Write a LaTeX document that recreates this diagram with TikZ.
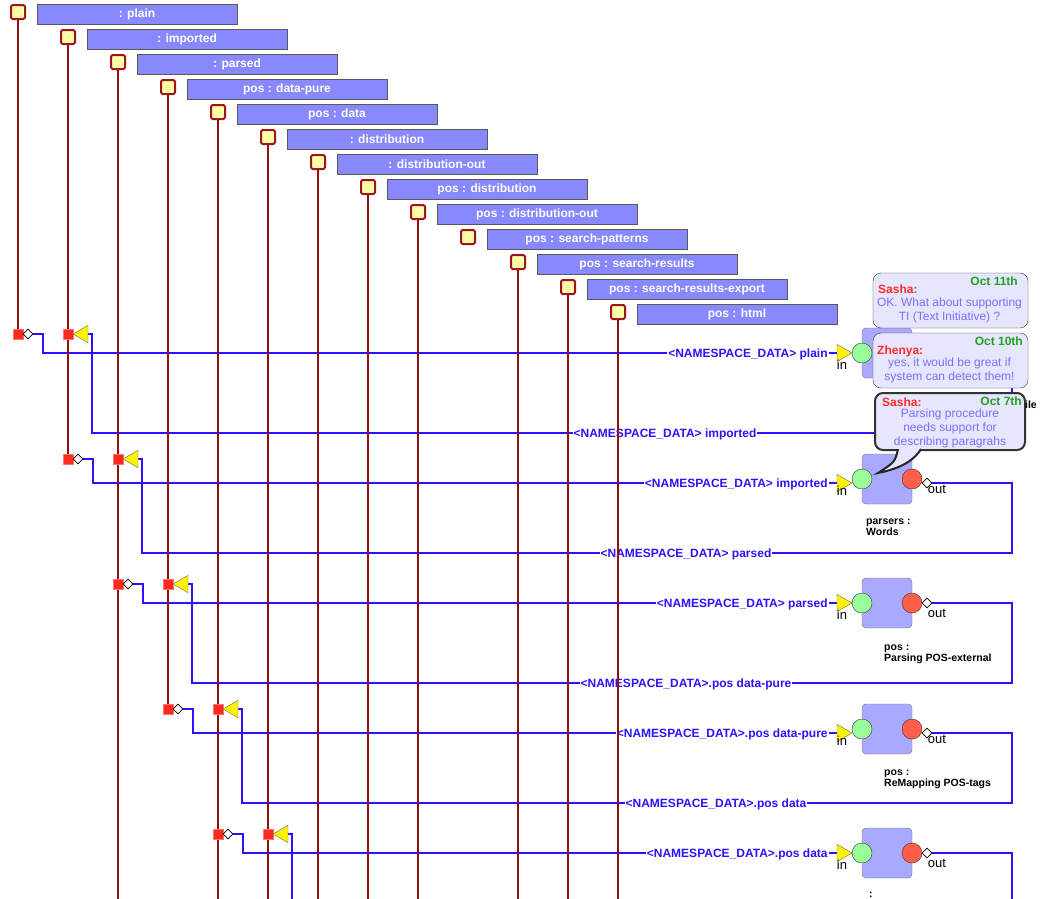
\documentclass[tikz,border=0pt]{standalone}
\usepackage{fontspec}
\setmainfont{Liberation Sans}
\usetikzlibrary{positioning}
\usetikzlibrary{shapes.geometric}
\pgfdeclarelayer{wires}
\pgfdeclarelayer{lives}
\pgfsetlayers{wires,lives,main}
\definecolor{mlife}{HTML}{8E1010}
\definecolor{mdark}{HTML}{A0141E}
\definecolor{myell}{HTML}{FFFFA8}
\definecolor{mhead}{HTML}{8888FF}
\definecolor{msq}{HTML}{FF2A1E}
\definecolor{mwire}{HTML}{2A14FF}
\definecolor{mbox}{HTML}{A9A9FF}
\definecolor{mgreen}{HTML}{99FF99}
\definecolor{mred}{HTML}{FF5F4A}
\definecolor{mnote}{HTML}{E6E6FF}
\definecolor{mnotetext}{HTML}{7C6FFF}
\definecolor{mname}{HTML}{FF2A2A}
\definecolor{mdate}{HTML}{22A022}
\tikzset{
  headsq/.style = {draw=mdark, line width=2pt, fill=myell, minimum size=14pt, inner sep=0, rounded corners=1.5pt},
  headbox/.style = {draw=black!65, fill=mhead, minimum width=200pt, minimum height=20pt, inner sep=0, text=white, font=\fontsize{12}{14}\selectfont\bfseries},
  lsq/.style = {draw=red!55!white, fill=msq, minimum size=10pt, inner sep=0},
  sendpt/.style = {diamond, draw=black, fill=white, minimum size=10pt, inner sep=0, line width=0.6pt},
  recvpt/.style = {regular polygon, regular polygon sides=3, shape border rotate=90, draw=black!60, fill=yellow, minimum size=20pt, inner sep=0},
  inpt/.style = {recvpt, shape border rotate=-90},
  comp/.style = {draw=black!55, fill=mbox, rounded corners=4pt, minimum size=50pt, inner sep=0},
  pin/.style = {circle, draw=black!80, fill=mgreen, minimum size=20pt, inner sep=0},
  pout/.style = {pin, fill=mred},
  portlbl/.style = {inner sep=0, font=\fontsize{13}{13}\selectfont},
  complbl/.style = {inner sep=0, anchor=north west, align=left, font=\fontsize{10.5}{10.5}\selectfont\bfseries},
  wire/.style = {mwire, line width=2pt},
  wlabel/.style = {text=mwire, fill=white, inner sep=1pt, text height=8.6pt, text depth=0pt, font=\fontsize{12}{14}\selectfont\bfseries},
  life/.style = {mlife, line width=2pt},
  note/.style = {draw=black!80, fill=mnote, rounded corners=8pt, minimum width=155pt, minimum height=55pt, inner sep=0},
  who/.style = {text=mname, inner sep=0, anchor=base west, font=\fontsize{12}{14}\selectfont\bfseries},
  when/.style = {text=mdate, inner sep=0, anchor=base east, font=\fontsize{12}{14}\selectfont\bfseries},
  said/.style = {text=mnotetext, inner sep=0, anchor=north, align=center, font=\fontsize{12}{14}\selectfont}
}

\begin{document}
\begin{tikzpicture}[x=1pt, y=-1pt]
  \useasboundingbox (0, 0) rectangle (1049, 898);
  \clip (0, 0) rectangle (1049, 898);

  % data objects
  \node [headsq] (h0) at (18, 12) {};    \node [headbox] (b0) at (137, 14) {: plain};
  \node [headsq] (h1) at (68, 37) {};    \node [headbox] (b1) at (187, 39) {: imported};
  \node [headsq] (h2) at (118, 62) {};   \node [headbox] (b2) at (237, 64) {: parsed};
  \node [headsq] (h3) at (168, 87) {};   \node [headbox] (b3) at (287, 89) {pos : data-pure};
  \node [headsq] (h4) at (218, 112) {};  \node [headbox] (b4) at (337, 114) {pos : data};
  \node [headsq] (h5) at (268, 137) {};  \node [headbox] (b5) at (387, 139) {: distribution};
  \node [headsq] (h6) at (318, 162) {};  \node [headbox] (b6) at (437, 164) {: distribution-out};
  \node [headsq] (h7) at (368, 187) {};  \node [headbox] (b7) at (487, 189) {pos : distribution};
  \node [headsq] (h8) at (418, 212) {};  \node [headbox] (b8) at (537, 214) {pos : distribution-out};
  \node [headsq] (h9) at (468, 237) {};  \node [headbox] (b9) at (587, 239) {pos : search-patterns};
  \node [headsq] (h10) at (518, 262) {}; \node [headbox] (b10) at (637, 264) {pos : search-results};
  \node [headsq] (h11) at (568, 287) {}; \node [headbox] (b11) at (687, 289) {pos : search-results-export};
  \node [headsq] (h12) at (618, 312) {}; \node [headbox] (b12) at (737, 314) {pos : html};

  % send and receive points
  \node [lsq] (a1) at (18, 334) {};  \node [sendpt] (d1) at (28, 334) {};
  \node [lsq] (r1) at (68, 334) {};  \node [recvpt] (t1) at (83, 334) {};
  \node [lsq] (a2) at (68, 459) {};  \node [sendpt] (d2) at (78, 459) {};
  \node [lsq] (r2) at (118, 459) {}; \node [recvpt] (t2) at (133, 459) {};
  \node [lsq] (a3) at (118, 584) {}; \node [sendpt] (d3) at (128, 584) {};
  \node [lsq] (r3) at (168, 584) {}; \node [recvpt] (t3) at (183, 584) {};
  \node [lsq] (a4) at (168, 709) {}; \node [sendpt] (d4) at (178, 709) {};
  \node [lsq] (r4) at (218, 709) {}; \node [recvpt] (t4) at (233, 709) {};
  \node [lsq] (a5) at (218, 834) {}; \node [sendpt] (d5) at (228, 834) {};
  \node [lsq] (r5) at (268, 834) {}; \node [recvpt] (t5) at (283, 834) {};

  % components
  \node [comp] (c1) at (887, 353) {};
  \node [pin] (ci1) at (862, 353) {}; \node [pout] (co1) at (912, 353) {};
  \node [inpt] (ti1) at (842, 353) {}; \node [sendpt] (do1) at (927, 353) {};
  \node [comp] (c2) at (887, 479) {};
  \node [pin] (ci2) at (862, 479) {}; \node [pout] (co2) at (912, 479) {};
  \node [inpt] (ti2) at (842, 483) {}; \node [sendpt] (do2) at (927, 483) {};
  \node [comp] (c3) at (887, 603) {};
  \node [pin] (ci3) at (862, 603) {}; \node [pout] (co3) at (912, 603) {};
  \node [inpt] (ti3) at (842, 603) {}; \node [sendpt] (do3) at (927, 603) {};
  \node [comp] (c4) at (887, 729) {};
  \node [pin] (ci4) at (862, 729) {}; \node [pout] (co4) at (912, 729) {};
  \node [inpt] (ti4) at (842, 733) {}; \node [sendpt] (do4) at (927, 733) {};
  \node [comp] (c5) at (887, 853) {};
  \node [pin] (ci5) at (862, 853) {}; \node [pout] (co5) at (912, 853) {};
  \node [inpt] (ti5) at (842, 853) {}; \node [sendpt] (do5) at (927, 853) {};

  \coordinate (k1) at (1012, 433);
  \coordinate (k2) at (1012, 553);
  \coordinate (k3) at (1012, 683);
  \coordinate (k4) at (1012, 803);
  \coordinate (k5) at (1012, 930);
  \coordinate (bot) at (0, 900);

  \begin{pgfonlayer}{wires}
    \draw [wire] (d1.east) -- ++(10, 0) |- (ti1.west);
    \draw [wire] (do1.east) -| (k1) -| ([xshift=4pt]t1.east) -- (t1.east);
    \draw [wire] (d2.east) -- ++(10, 0) |- (ti2.west);
    \draw [wire] (do2.east) -| (k2) -| ([xshift=4pt]t2.east) -- (t2.east);
    \draw [wire] (d3.east) -- ++(10, 0) |- (ti3.west);
    \draw [wire] (do3.east) -| (k3) -| ([xshift=4pt]t3.east) -- (t3.east);
    \draw [wire] (d4.east) -- ++(10, 0) |- (ti4.west);
    \draw [wire] (do4.east) -| (k4) -| ([xshift=4pt]t4.east) -- (t4.east);
    \draw [wire] (d5.east) -- ++(10, 0) |- (ti5.west);
    \draw [wire] (do5.east) -| (k5) -| ([xshift=4pt]t5.east) -- (t5.east);

    \node [wlabel, left=8pt of ti1] (w1) {<NAMESPACE\_DATA> plain};
    \node [wlabel] (v1) at (665, 433) {<NAMESPACE\_DATA> imported};
    \node [wlabel, left=8pt of ti2] (w2) {<NAMESPACE\_DATA> imported};
    \node [wlabel] (v2) at (686, 553) {<NAMESPACE\_DATA> parsed};
    \node [wlabel, left=8pt of ti3] (w3) {<NAMESPACE\_DATA> parsed};
    \node [wlabel] (v3) at (686, 683) {<NAMESPACE\_DATA>.pos data-pure};
    \node [wlabel, left=8pt of ti4] (w4) {<NAMESPACE\_DATA>.pos data-pure};
    \node [wlabel] (v4) at (716, 803) {<NAMESPACE\_DATA>.pos data};
    \node [wlabel, left=8pt of ti5] (w5) {<NAMESPACE\_DATA>.pos data};
  \end{pgfonlayer}

  \begin{pgfonlayer}{lives}
    \draw [life] (h0.south) -- (a1.center);
    \draw [life] (h1.south) -- (a2.center);
    \draw [life] (h2.south) -- (h2.south |- bot);
    \draw [life] (h3.south) -- (a4.center);
    \draw [life] (h4.south) -- (h4.south |- bot);
    \draw [life] (h5.south) -- (h5.south |- bot);
    \draw [life] (h6.south) -- (h6.south |- bot);
    \draw [life] (h7.south) -- (h7.south |- bot);
    \draw [life] (h8.south) -- (h8.south |- bot);
    \draw [life] (h10.south) -- (h10.south |- bot);
    \draw [life] (h11.south) -- (h11.south |- bot);
    \draw [life] (h12.south) -- (h12.south |- bot);
  \end{pgfonlayer}

  % port names and component names
  \node [portlbl] (in1) at ([xshift=-20pt, yshift=-12pt]ci1.center) {in};
  \node [portlbl] (in2) at ([xshift=-20pt, yshift=-12pt]ci2.center) {in};
  \node [portlbl] (ou2) at ([xshift=25pt, yshift=-10pt]co2.center) {out};
  \node [portlbl] (in3) at ([xshift=-20pt, yshift=-12pt]ci3.center) {in};
  \node [portlbl] (ou3) at ([xshift=25pt, yshift=-10pt]co3.center) {out};
  \node [portlbl] (in4) at ([xshift=-20pt, yshift=-12pt]ci4.center) {in};
  \node [portlbl] (ou4) at ([xshift=25pt, yshift=-10pt]co4.center) {out};
  \node [portlbl] (in5) at ([xshift=-20pt, yshift=-12pt]ci5.center) {in};
  \node [portlbl] (ou5) at ([xshift=25pt, yshift=-10pt]co5.center) {out};
  \node [complbl, anchor=base east] (n1) at (1037, 408) {ile};
  \node [complbl] (n2) at (866, 519) {parsers :\\Words};
  \node [complbl] (n3) at (884, 645) {pos :\\Parsing POS-external};
  \node [complbl] (n4) at (884, 770) {pos :\\ReMapping POS-tags};
  \node [complbl, anchor=base west] (n5) at (869, 897) {:};

  % comments
  \node [note] (m1) at (950.5, 300.5) {};
  \node [when] (m1d) at (1018, 285) {Oct 11th};
  \node [who] (m1n) at (878, 293) {Sasha:};
  \node [said] (m1t) at (949.5, 297.2) {OK. What about supporting\\TI (Text Initiative) ?};

  \node [note] (m2) at (950.5, 360.5) {};
  \node [when] (m2d) at (1023, 345) {Oct 10th};
  \node [who] (m2n) at (877, 354) {Zhenya:};
  \node [said] (m2t) at (949.5, 357.2) {yes, it would be great if\\system can detect them!};

  \node [note, line width=2pt, minimum width=150pt, minimum height=57pt] (m3) at (950, 421.5) {};
  \draw [fill=mnote, draw=black!85, line width=2pt] (898, 449) .. controls (895, 462) .. (878, 473) .. controls (903, 468) and (915, 459) .. (921, 449);
  \node [when] (m3d) at (1022, 405) {Oct 7th};
  \node [who] (m3n) at (882, 406) {Sasha:};
  \node [said] (m3t) at (950, 408.2) {Parsing procedure\\needs support for\\describing paragrahs};
\end{tikzpicture}
\end{document}
